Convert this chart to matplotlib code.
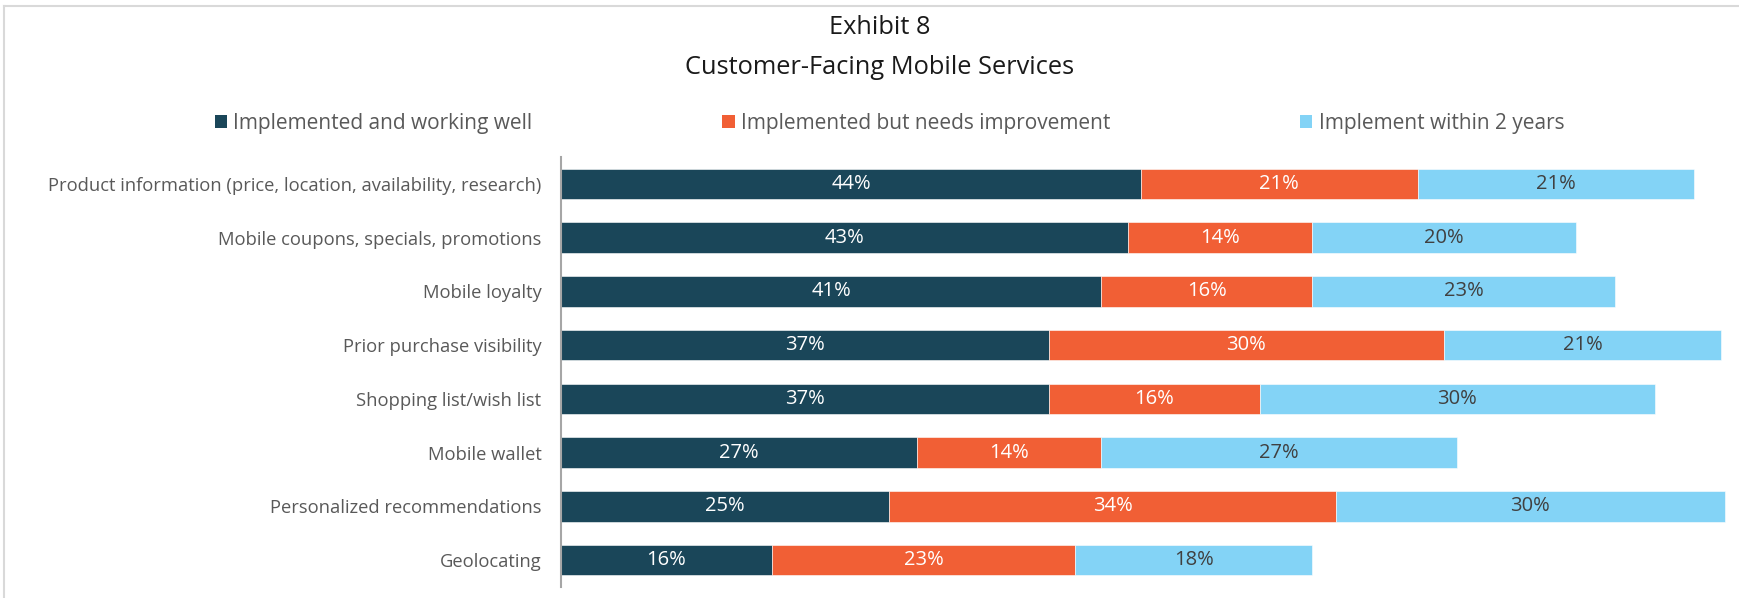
"""Exhibit 8 - Customer-Facing Mobile Services, stacked horizontal bars."""
import matplotlib
matplotlib.use("Agg")
import matplotlib.pyplot as plt
from matplotlib.lines import Line2D
from matplotlib.patches import Patch
import numpy as np

categories = [
    "Product information (price, location, availability, research)",
    "Mobile coupons, specials, promotions",
    "Mobile loyalty",
    "Prior purchase visibility",
    "Shopping list/wish list",
    "Mobile wallet",
    "Personalized recommendations",
    "Geolocating",
]
series_names = [
    "Implemented and working well",
    "Implemented but needs improvement",
    "Implement within 2 years",
]
working_well = [44, 43, 41, 37, 37, 27, 24.9, 16]
needs_improvement = [21, 14, 16, 30, 16, 14, 33.9, 23]
within_2_years = [21, 20, 23, 21, 30, 27, 29.5, 18]

colors = ["#1a4659", "#f15f35", "#83d3f6"]
label_colors = ["white", "white", "#404040"]

plt.rcParams["font.family"] = ["Open Sans", "DejaVu Sans"]

W, H = 1740, 598
fig = plt.figure(figsize=(W / 100, H / 100), dpi=100)

# border remnants of the original frame
fig.add_artist(Line2D([4 / W, 4 / W], [0, 1 - 6 / H], transform=fig.transFigure,
                      color="#d9d9d9", lw=1.5))
fig.add_artist(Line2D([4 / W, 1], [1 - 6 / H, 1 - 6 / H], transform=fig.transFigure,
                      color="#d9d9d9", lw=1.5))

ax = fig.add_axes([561 / W, 11 / H, (W - 561) / W, 430 / H])

y = np.arange(len(categories))
left = np.zeros(len(categories))
for vals, name, c, lc in zip([working_well, needs_improvement, within_2_years],
                             series_names, colors, label_colors):
    vals = np.array(vals, dtype=float)
    bars = ax.barh(y, vals, left=left, height=0.57, color=c, label=name,
                   edgecolor="white", linewidth=0.4)
    ax.bar_label(bars, labels=[f"{v:.0f}%" for v in vals], label_type="center",
                 color=lc, fontsize=14.5)
    left += vals

ax.set_xlim(0, (W - 561) / 13.18)
ax.set_ylim(len(categories) - 0.5, -0.5)
ax.set_yticks(y)
ax.set_yticklabels(categories, fontsize=13.2, color="#595959")
ax.tick_params(axis="y", length=0, pad=14)
ax.set_xticks([])
for s in ["top", "right", "bottom"]:
    ax.spines[s].set_visible(False)
ax.spines["left"].set_color("#a6a6a6")
ax.spines["left"].set_linewidth(1.5)

fig.text(879.5 / W, 1 - 28 / H, "Exhibit 8", ha="center", va="center",
         fontsize=18.3, color="#1a1a1a")
fig.text(879.5 / W, 1 - 68 / H, "Customer-Facing Mobile Services", ha="center",
         va="center", fontsize=18.3, color="#1a1a1a")

handles = [Patch(facecolor=c) for c in colors]
fig.legend(handles, series_names, loc="center", bbox_to_anchor=(889.5 / W, 1 - 123 / H),
           ncol=3, frameon=False, fontsize=15, labelcolor="#595959",
           handlelength=0.6, handleheight=0.6, handletextpad=0.3,
           columnspacing=9.1, borderpad=0)

fig.savefig("out.png", dpi=100)
